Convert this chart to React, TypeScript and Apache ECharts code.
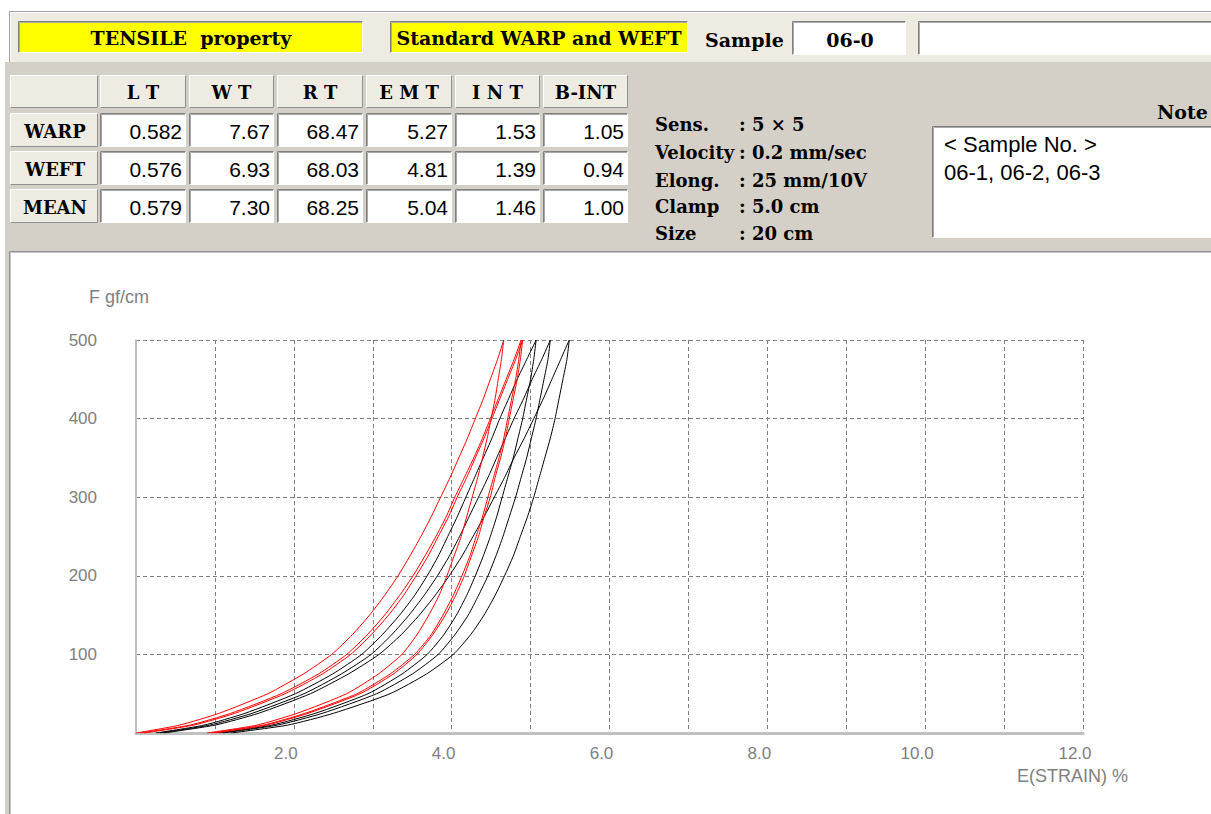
import React, { useEffect, useRef } from "react";
import * as echarts from "echarts";

// ---------- DATA ----------
const forceLevels = [0, 10, 25, 50, 75, 100, 125, 150, 175, 200, 225, 250, 275, 300, 325, 350, 375, 400, 425, 450, 475, 500];

// strain (%) at each force level on the loading curve
const weft1Loading = [0.0, 0.55, 1.05, 1.67, 2.12, 2.48, 2.74, 2.96, 3.15, 3.32, 3.47, 3.61, 3.74, 3.86, 3.98, 4.09, 4.2, 4.3, 4.4, 4.49, 4.58, 4.66];
const weft2Loading = [0.05, 0.68, 1.2, 1.84, 2.31, 2.67, 2.93, 3.15, 3.34, 3.51, 3.66, 3.8, 3.93, 4.04, 4.16, 4.28, 4.39, 4.49, 4.59, 4.69, 4.79, 4.88];
const weft3Loading = [0.1, 0.73, 1.25, 1.89, 2.36, 2.72, 2.98, 3.2, 3.39, 3.55, 3.7, 3.83, 3.96, 4.07, 4.19, 4.3, 4.41, 4.51, 4.61, 4.71, 4.81, 4.9];
const warp1Loading = [0.25, 0.86, 1.38, 2.02, 2.49, 2.86, 3.12, 3.34, 3.53, 3.69, 3.83, 3.95, 4.07, 4.18, 4.29, 4.4, 4.51, 4.61, 4.72, 4.83, 4.95, 5.07];
const warp2Loading = [0.3, 0.93, 1.47, 2.13, 2.6, 2.98, 3.24, 3.46, 3.65, 3.82, 3.97, 4.1, 4.22, 4.34, 4.46, 4.57, 4.68, 4.79, 4.91, 5.02, 5.14, 5.25];
const warp3Loading = [0.35, 1.0, 1.55, 2.21, 2.69, 3.08, 3.36, 3.59, 3.79, 3.97, 4.13, 4.27, 4.41, 4.54, 4.67, 4.79, 4.92, 5.04, 5.16, 5.27, 5.38, 5.49];

// strain (%) at each force level on the recovery curve (listed by ascending force)
const weft1Recovery = [0.9, 1.53, 2.04, 2.67, 3.07, 3.37, 3.56, 3.71, 3.84, 3.94, 4.03, 4.12, 4.19, 4.26, 4.33, 4.39, 4.45, 4.5, 4.55, 4.59, 4.63, 4.66];
const weft2Recovery = [0.95, 1.61, 2.14, 2.8, 3.22, 3.53, 3.74, 3.89, 4.02, 4.13, 4.23, 4.31, 4.39, 4.46, 4.53, 4.6, 4.66, 4.71, 4.76, 4.81, 4.85, 4.88];
const weft3Recovery = [1.0, 1.65, 2.18, 2.84, 3.26, 3.56, 3.76, 3.92, 4.05, 4.16, 4.25, 4.34, 4.41, 4.49, 4.55, 4.62, 4.68, 4.73, 4.78, 4.83, 4.87, 4.9];
const warp1Recovery = [1.05, 1.72, 2.27, 2.94, 3.37, 3.69, 3.9, 4.06, 4.19, 4.3, 4.4, 4.49, 4.57, 4.64, 4.71, 4.78, 4.84, 4.9, 4.95, 5.0, 5.04, 5.07];
const warp2Recovery = [1.1, 1.79, 2.36, 3.05, 3.5, 3.83, 4.04, 4.21, 4.34, 4.46, 4.56, 4.65, 4.73, 4.81, 4.88, 4.95, 5.01, 5.07, 5.12, 5.17, 5.22, 5.25];
const warp3Recovery = [1.2, 1.92, 2.5, 3.22, 3.68, 4.02, 4.24, 4.41, 4.55, 4.67, 4.78, 4.87, 4.96, 5.04, 5.11, 5.18, 5.25, 5.31, 5.36, 5.41, 5.46, 5.49];

const propertyNames = ["L T", "W T", "R T", "E M T", "I N T", "B-INT"];
const rowNames = ["WARP", "WEFT", "MEAN"];
const warpValues = ["0.582", "7.67", "68.47", "5.27", "1.53", "1.05"];
const weftValues = ["0.576", "6.93", "68.03", "4.81", "1.39", "0.94"];
const meanValues = ["0.579", "7.30", "68.25", "5.04", "1.46", "1.00"];

const conditionLabels = ["Sens.", "Velocity", "Elong.", "Clamp", "Size"];
const conditionValues = [": 5 × 5", ": 0.2 mm/sec", ": 25 mm/10V", ": 5.0 cm", ": 20 cm"];

const titleText = "TENSILE  property";
const standardText = "Standard WARP and WEFT";
const sampleLabel = "Sample";
const sampleNo = "06-0";
const noteTitle = "Note";
const noteLines = ["< Sample No. >", "06-1, 06-2, 06-3"];
const yAxisName = "F gf/cm";
const xAxisName = "E(STRAIN) %";

// ---------- STYLE HELPERS ----------
const SERIF = '"DejaVu Serif", "Liberation Serif", serif';
const SANS = '"Liberation Sans", Arial, sans-serif';
const BEIGE = "#EEEBE3";
const GRAY = "#D4D0C8";

function rect(x: number, y: number, w: number, h: number, fill: string) {
  return { type: "rect", silent: true, shape: { x, y, width: w, height: h }, style: { fill } };
}
function poly(points: number[][], stroke: string, lineWidth = 1) {
  return { type: "polyline", silent: true, shape: { points }, style: { stroke, lineWidth, fill: null } };
}
function txt(text: string, x: number, y: number, font: string, align = "left", fill = "#000") {
  return {
    type: "text",
    silent: true,
    style: {
      text, x, y, font, fill,
      textAlign: align, align,
      textVerticalAlign: "middle", verticalAlign: "middle",
    },
  };
}
function sunken(x: number, y: number, w: number, h: number, fill: string) {
  return [
    rect(x, y, w, h, fill),
    poly([[x + 0.5, y + h], [x + 0.5, y + 0.5], [x + w, y + 0.5]], "#808080", 1),
    poly([[x + 1.5, y + h - 1], [x + 1.5, y + 1.5], [x + w - 1, y + 1.5]], "#A8A8A8", 1),
    poly([[x + 0.5, y + h - 0.5], [x + w - 0.5, y + h - 0.5], [x + w - 0.5, y + 0.5]], "#FFFFFF", 1),
  ];
}
function raised(x: number, y: number, w: number, h: number, fill: string) {
  return [
    rect(x, y, w, h, fill),
    poly([[x + 0.5, y + h], [x + 0.5, y + 0.5], [x + w, y + 0.5]], "#FFFFFF", 1),
    poly([[x + 0.5, y + h - 0.5], [x + w - 0.5, y + h - 0.5], [x + w - 0.5, y + 0.5]], "#909090", 1),
  ];
}

function buildGraphics() {
  const g: any[] = [];
  // panels
  g.push(rect(5, 62, 1206, 190, GRAY));
  g.push(rect(5, 252, 4, 562, GRAY));
  g.push(rect(9, 11, 1202, 51, BEIGE));
  g.push(poly([[9.5, 62], [9.5, 11.5], [1211, 11.5]], "#A0A0A0", 1));
  g.push(poly([[10.5, 61], [10.5, 12.5], [1211, 12.5]], "#FFFFFF", 1));
  g.push(poly([[9.5, 814], [9.5, 251.5], [1211, 251.5]], "#909090", 1));
  g.push(poly([[10.5, 814], [10.5, 252.5], [1211, 252.5]], "#C8C8C8", 1));

  // header strip
  const hFont = `bold 19px ${SERIF}`;
  g.push(...sunken(18, 21, 345, 32, "#FFFF00"));
  g.push(txt(titleText, 191, 38, hFont, "center"));
  g.push(...sunken(390, 21, 298, 32, "#FFFF00"));
  g.push(txt(standardText, 539, 38, hFont, "center"));
  g.push(txt(sampleLabel, 705, 40, hFont, "left"));
  g.push(...sunken(792, 21, 114, 34, "#FFFFFF"));
  g.push(txt(sampleNo, 850, 40, hFont, "center"));
  g.push(...sunken(918, 21, 300, 34, "#FFFFFF"));

  // table
  const colL = [10, 100, 189, 277, 366, 455, 543];
  const colR = [98, 186, 274, 363, 452, 540, 628];
  const rowT = [75, 113, 151, 189];
  const rowB = [108, 147, 185, 223];
  g.push(...raised(colL[0], rowT[0], colR[0] - colL[0], rowB[0] - rowT[0], BEIGE));
  propertyNames.forEach((p, i) => {
    const c = i + 1;
    g.push(...raised(colL[c], rowT[0], colR[c] - colL[c], rowB[0] - rowT[0], BEIGE));
    g.push(txt(p, (colL[c] + colR[c]) / 2, (rowT[0] + rowB[0]) / 2 + 1, `bold 18px ${SERIF}`, "center"));
  });
  const rows = [warpValues, weftValues, meanValues];
  rows.forEach((vals, r) => {
    const t = rowT[r + 1];
    const b = rowB[r + 1];
    g.push(...raised(colL[0], t, colR[0] - colL[0], b - t, BEIGE));
    g.push(txt(rowNames[r], (colL[0] + colR[0]) / 2 + 1, (t + b) / 2 + 1, `bold 18px ${SERIF}`, "center"));
    vals.forEach((v, i) => {
      const c = i + 1;
      g.push(...sunken(colL[c], t, colR[c] - colL[c], b - t, "#FFFFFF"));
      g.push(txt(v, colR[c] - 4, (t + b) / 2 + 1, `21px ${SANS}`, "right"));
    });
  });

  // test conditions
  const condY = [124, 152, 180, 206, 233];
  conditionLabels.forEach((l, i) => {
    g.push(txt(l, 655, condY[i], `bold 18px ${SERIF}`, "left"));
    g.push(txt(conditionValues[i], 739, condY[i], `bold 18px ${SERIF}`, "left"));
  });

  // note
  g.push(txt(noteTitle, 1157, 112, hFont, "left"));
  g.push(...sunken(932, 126, 290, 112, "#FFFFFF"));
  g.push(txt(noteLines[0], 944, 144, `22px ${SANS}`, "left"));
  g.push(txt(noteLines[1], 944, 172, `22px ${SANS}`, "left"));

  // axis names
  g.push(txt(yAxisName, 89, 297, `18px ${SANS}`, "left", "#808080"));
  g.push(txt(xAxisName, 1017, 776, `18px ${SANS}`, "left", "#808080"));
  return g;
}

const curves = [
  { name: "WARP 06-1", color: "#000000", load: warp1Loading, rec: warp1Recovery },
  { name: "WARP 06-2", color: "#000000", load: warp2Loading, rec: warp2Recovery },
  { name: "WARP 06-3", color: "#000000", load: warp3Loading, rec: warp3Recovery },
  { name: "WEFT 06-1", color: "#FF0000", load: weft1Loading, rec: weft1Recovery },
  { name: "WEFT 06-2", color: "#FF0000", load: weft2Loading, rec: weft2Recovery },
  { name: "WEFT 06-3", color: "#FF0000", load: weft3Loading, rec: weft3Recovery },
];

function buildSeries() {
  const s: any[] = [];
  curves.forEach((c) => {
    [c.load, c.rec].forEach((arr, k) => {
      s.push({
        type: "line",
        name: c.name + (k === 0 ? " loading" : " recovery"),
        data: forceLevels.map((f, i) => [arr[i], f]),
        showSymbol: false,
        smooth: 0.2,
        lineStyle: { color: c.color, width: 1 },
        itemStyle: { color: c.color },
        z: 3,
      });
    });
  });
  return s;
}

export default function App() {
  const ref = useRef<HTMLDivElement>(null);
  useEffect(() => {
    if (!ref.current) return;
    const chart = echarts.init(ref.current, null, { renderer: "svg" });
    chart.setOption({
      animation: false,
      backgroundColor: "#FFFFFF",
      grid: { left: 136, top: 340, width: 947, height: 393, containLabel: false },
      xAxis: {
        type: "value",
        min: 0,
        max: 12,
        interval: 1,
        axisLine: { show: true, lineStyle: { color: "#C0C0C0", width: 3 } },
        axisTick: { show: false },
        axisLabel: {
          color: "#808080",
          fontSize: 17,
          fontFamily: SANS,
          margin: 12,
          padding: [0, 16, 0, 0],
          formatter: (v: number) => (v > 0 && v % 2 === 0 ? v.toFixed(1) : ""),
        },
        splitLine: { show: true, showMinLine: false, lineStyle: { color: "#808080", type: [4, 3], width: 1 } },
      },
      yAxis: {
        type: "value",
        min: 0,
        max: 500,
        interval: 100,
        axisLine: { show: true, onZero: false, lineStyle: { color: "#C0C0C0", width: 2 } },
        axisTick: { show: false },
        axisLabel: {
          color: "#808080",
          fontSize: 17,
          fontFamily: SANS,
          margin: 39,
          padding: [6, 0, 0, 0],
          formatter: (v: number) => (v > 0 ? String(v) : ""),
        },
        splitLine: { show: true, showMinLine: false, lineStyle: { color: "#808080", type: [4, 3], width: 1 } },
      },
      graphic: buildGraphics(),
      series: buildSeries(),
    });
    return () => chart.dispose();
  }, []);
  return (
    <div
      ref={ref}
      style={{ position: "fixed", left: 0, top: 0, width: 1211, height: 814, background: "#fff" }}
    />
  );
}
